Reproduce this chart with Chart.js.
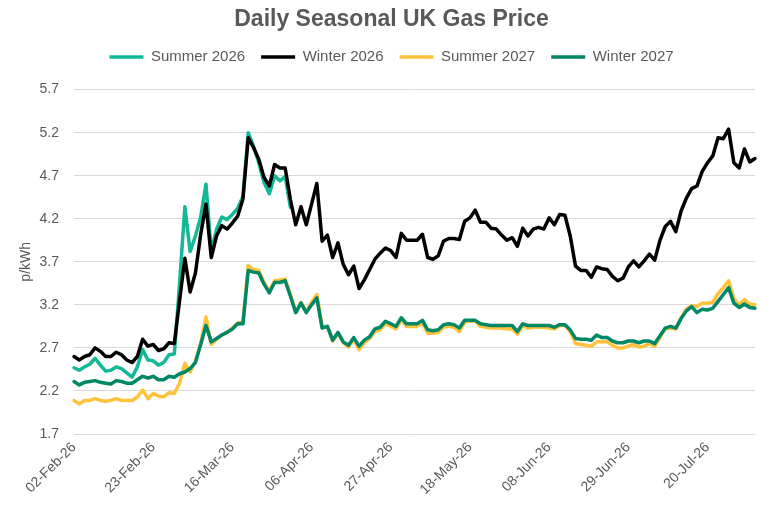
<!DOCTYPE html>
<html>
<head>
<meta charset="utf-8">
<script src="https://cdn.jsdelivr.net/npm/chart.js@4.4.1/dist/chart.umd.min.js"></script>
<style>
  html, body { margin: 0; padding: 0; background: #ffffff; }
  canvas { display: block; }
</style>
</head>
<body>
<canvas id="gasChart" width="777" height="513"></canvas>
<script>
// weekday series, first trading day 02-Feb-26
const firstDay = new Date(2026, 1, 2);
const dayCount = 130;
const labelEvery = 15;
const monthNames = ['Jan', 'Feb', 'Mar', 'Apr', 'May', 'Jun', 'Jul', 'Aug', 'Sep', 'Oct', 'Nov', 'Dec'];

const yTicks = [1.7, 2.2, 2.7, 3.2, 3.7, 4.2, 4.7, 5.2, 5.7];

const seriesNames = ['Summer 2026', 'Winter 2026', 'Summer 2027', 'Winter 2027'];
const seriesColors = ['#13B896', '#000000', '#FFC23A', '#008766'];

// Summer 2026 stops trading at the end of March
const summer2026 = [
  2.47, 2.44, 2.48, 2.51, 2.58, 2.50, 2.43, 2.44, 2.48, 2.46,
  2.41, 2.36, 2.48, 2.68, 2.56, 2.55, 2.50, 2.53, 2.62, 2.63,
  3.45, 4.34, 3.82, 4.00, 4.22, 4.60, 3.82, 4.08, 4.22, 4.19,
  4.25, 4.32, 4.46, 5.20, 5.04, 4.85, 4.62, 4.49, 4.70, 4.64,
  4.69, 4.33
];

const winter2026 = [
  2.60, 2.56, 2.60, 2.62, 2.70, 2.66, 2.60, 2.60, 2.65, 2.62,
  2.56, 2.53, 2.60, 2.80, 2.72, 2.74, 2.67, 2.69, 2.76, 2.75,
  3.25, 3.74, 3.35, 3.57, 4.02, 4.37, 3.75, 4.00, 4.12, 4.08,
  4.15, 4.23, 4.43, 5.14, 5.03, 4.89, 4.68, 4.58, 4.83, 4.79,
  4.79, 4.42, 4.13, 4.34, 4.13, 4.37, 4.61, 3.94, 4.01, 3.75,
  3.92, 3.67, 3.55, 3.65, 3.39, 3.49, 3.61, 3.73, 3.80, 3.86,
  3.83, 3.75, 4.03, 3.95, 3.95, 3.95, 4.02, 3.75, 3.73, 3.77,
  3.94, 3.97, 3.97, 3.96, 4.17, 4.21, 4.30, 4.16, 4.16, 4.09,
  4.08, 4.01, 3.95, 3.98, 3.88, 4.09, 4.00, 4.08, 4.10, 4.08,
  4.21, 4.13, 4.25, 4.24, 4.00, 3.65, 3.60, 3.60, 3.52, 3.64,
  3.62, 3.61, 3.53, 3.48, 3.51, 3.64, 3.71, 3.64, 3.71, 3.79,
  3.72, 3.95, 4.11, 4.17, 4.05, 4.29, 4.44, 4.55, 4.58, 4.75,
  4.85, 4.93, 5.14, 5.13, 5.24, 4.85, 4.79, 5.01, 4.86, 4.90
];

const summer2027 = [
  2.09, 2.05, 2.09, 2.09, 2.11, 2.09, 2.08, 2.09, 2.11, 2.09,
  2.09, 2.09, 2.13, 2.21, 2.11, 2.17, 2.14, 2.13, 2.18, 2.17,
  2.29, 2.52, 2.42, 2.55, 2.75, 3.06, 2.74, 2.80, 2.85, 2.88,
  2.93, 2.99, 3.00, 3.66, 3.61, 3.60, 3.46, 3.36, 3.48, 3.49,
  3.50, 3.32, 3.12, 3.23, 3.12, 3.23, 3.32, 2.95, 2.95, 2.78,
  2.87, 2.76, 2.71, 2.80, 2.68, 2.76, 2.81, 2.89, 2.91, 2.98,
  2.95, 2.92, 3.03, 2.95, 2.95, 2.95, 2.99, 2.87, 2.87, 2.88,
  2.94, 2.95, 2.94, 2.89, 3.00, 3.01, 3.01, 2.95, 2.94, 2.93,
  2.93, 2.93, 2.92, 2.92, 2.86, 2.96, 2.93, 2.94, 2.94, 2.94,
  2.93, 2.92, 2.96, 2.96, 2.89, 2.75, 2.74, 2.73, 2.72, 2.77,
  2.77, 2.77, 2.73, 2.70, 2.70, 2.72, 2.74, 2.71, 2.72, 2.75,
  2.72, 2.82, 2.92, 2.93, 2.92, 3.05, 3.15, 3.19, 3.18, 3.22,
  3.22, 3.23, 3.33, 3.40, 3.48, 3.27, 3.20, 3.26, 3.21, 3.20
];

const winter2027 = [
  2.31, 2.27, 2.30, 2.31, 2.32, 2.30, 2.29, 2.28, 2.32, 2.31,
  2.29, 2.29, 2.33, 2.37, 2.35, 2.37, 2.33, 2.33, 2.37, 2.36,
  2.40, 2.42, 2.46, 2.53, 2.74, 2.96, 2.77, 2.81, 2.85, 2.88,
  2.92, 2.98, 2.98, 3.60, 3.58, 3.57, 3.44, 3.34, 3.46, 3.46,
  3.48, 3.30, 3.11, 3.22, 3.11, 3.20, 3.28, 2.93, 2.95, 2.79,
  2.88, 2.77, 2.73, 2.82, 2.72, 2.79, 2.83, 2.92, 2.94, 3.01,
  2.98, 2.95, 3.05, 2.98, 2.98, 2.98, 3.02, 2.91, 2.90, 2.91,
  2.97, 2.98, 2.97, 2.93, 3.02, 3.02, 3.02, 2.98, 2.97, 2.96,
  2.96, 2.96, 2.96, 2.96, 2.89, 2.98, 2.96, 2.96, 2.96, 2.96,
  2.96, 2.94, 2.97, 2.97, 2.91, 2.81, 2.80, 2.80, 2.79, 2.85,
  2.82, 2.82, 2.78, 2.76, 2.76, 2.78, 2.78, 2.76, 2.78, 2.78,
  2.75, 2.84, 2.93, 2.95, 2.93, 3.04, 3.13, 3.18, 3.11, 3.15,
  3.14, 3.16, 3.24, 3.32, 3.40, 3.22, 3.17, 3.21, 3.17, 3.16
];

function weekdayLabels(start, count) {
  const out = [];
  const d = new Date(start);
  while (out.length < count) {
    const wd = d.getDay();
    if (wd !== 0 && wd !== 6) {
      const dd = String(d.getDate()).padStart(2, '0');
      out.push(dd + '-' + monthNames[d.getMonth()] + '-' + String(d.getFullYear()).slice(2));
    }
    d.setDate(d.getDate() + 1);
  }
  return out;
}

const labels = weekdayLabels(firstDay, dayCount);
const allSeries = [summer2026, winter2026, summer2027, winter2027];
const drawOrder = [4, 2, 3, 1]; // winter lines sit on top of summer lines

const textColor = '#595959';
const fontFamily = "Arial, 'Liberation Sans', sans-serif";

// legend is a bit taller in the original, push the plot down
const legendSpacer = {
  id: 'legendSpacer',
  afterInit(chart) {
    const legend = chart.legend;
    const fit = legend.fit.bind(legend);
    legend.fit = function () {
      fit();
      this.height += 15;
    };
  }
};

const config = {
  type: 'line',
  data: {
    labels: labels,
    datasets: allSeries.map((values, i) => ({
      label: seriesNames[i],
      data: values,
      borderColor: seriesColors[i],
      backgroundColor: seriesColors[i],
      borderWidth: 3.5,
      borderCapStyle: 'round',
      borderJoinStyle: 'round',
      pointRadius: 0,
      pointHoverRadius: 0,
      pointStyle: 'line',
      tension: 0,
      fill: false,
      order: drawOrder[i]
    }))
  },
  options: {
    responsive: false,
    animation: false,
    events: [],
    layout: { padding: { left: 6, right: 0, top: 0, bottom: 0 } },
    plugins: {
      title: {
        display: true,
        text: 'Daily Seasonal UK Gas Price',
        color: textColor,
        font: { family: fontFamily, size: 23, weight: 'bold' },
        padding: { top: 6, bottom: 0 }
      },
      legend: {
        display: true,
        position: 'top',
        labels: {
          usePointStyle: true,
          pointStyle: 'line',
          pointStyleWidth: 34,
          padding: 16,
          color: textColor,
          font: { family: fontFamily, size: 15 },
          sort: (a, b) => a.datasetIndex - b.datasetIndex
        }
      },
      tooltip: { enabled: false }
    },
    scales: {
      x: {
        type: 'category',
        grid: { display: false, drawTicks: false },
        border: { display: false },
        afterBuildTicks: s => {
          s.ticks = s.ticks.filter(t => t.value % labelEvery === 0);
        },
        afterFit: s => { s.height = 79; },
        ticks: {
          autoSkip: false,
          minRotation: 45,
          maxRotation: 45,
          padding: 5,
          color: textColor,
          font: { family: fontFamily, size: 14 },
          callback: function (value) { return this.getLabelForValue(value); }
        }
      },
      y: {
        type: 'linear',
        min: 1.7,
        max: 5.7,
        afterBuildTicks: s => {
          s.ticks = yTicks.map(v => ({ value: v }));
        },
        afterFit: s => { s.width = 68; },
        grid: { color: '#d9d9d9', lineWidth: 1, drawTicks: false },
        border: { display: false },
        ticks: {
          padding: 15,
          color: textColor,
          font: { family: fontFamily, size: 14 },
          callback: v => v.toFixed(1)
        },
        title: {
          display: true,
          text: 'p/kWh',
          color: textColor,
          font: { family: fontFamily, size: 14 },
          padding: { top: 12, bottom: 0 }
        }
      },
      y2: {
        type: 'linear',
        position: 'right',
        display: true,
        grid: { display: false, drawTicks: false },
        border: { display: false },
        ticks: { display: false },
        afterFit: s => { s.width = 22; }
      }
    }
  },
  plugins: [legendSpacer]
};

new Chart(document.getElementById('gasChart').getContext('2d'), config);
</script>
</body>
</html>
